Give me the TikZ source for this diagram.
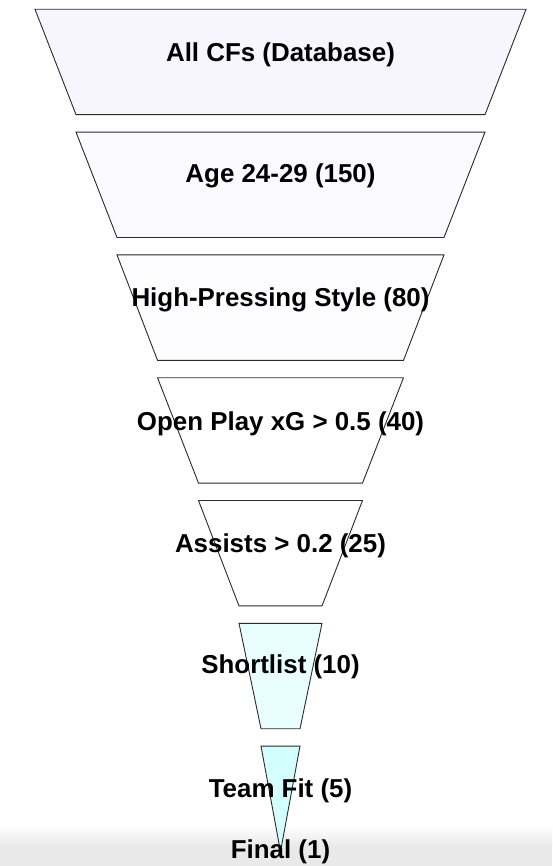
\documentclass[tikz,border=0pt]{standalone}
\usepackage{fontspec}
\setmainfont{Liberation Sans}
\definecolor{fA}{HTML}{F7F6FF}
\definecolor{fB}{HTML}{FAFAFF}
\definecolor{fC}{HTML}{FDFDFF}
\definecolor{fD}{HTML}{FFFFFF}
\definecolor{fE}{HTML}{FFFFFF}
\definecolor{fF}{HTML}{E9FFFF}
\definecolor{fG}{HTML}{D4FFFF}
\definecolor{edge}{HTML}{2A2A2A}
\definecolor{band}{HTML}{E9E9E9}
\tikzset{
  stagebox/.style={draw=edge, line width=0.9pt, line join=miter},
  stagelabel/.style={anchor=base, inner sep=0pt, text=black,
    font=\fontsize{25.9}{30}\selectfont\bfseries}
}
\begin{document}
\begin{tikzpicture}[x=1pt,y=-1pt]
\useasboundingbox (0,0) rectangle (552,866);
\fill[white] (0,0) rectangle (552,866);
% bottom grey band of the screenshot
\shade[top color=white, bottom color=band] (0,826) rectangle (552,846);
\fill[band] (0,846) rectangle (552,866);
% funnel stages
\filldraw[stagebox, fill=fA] (35,9.3) -- (526,9.3) -- (485,114.7) -- (76,114.7) -- cycle;
\filldraw[stagebox, fill=fB] (76,132.1) -- (485,132.1) -- (444,237.5) -- (117,237.5) -- cycle;
\filldraw[stagebox, fill=fC] (117,254.9) -- (444,254.9) -- (403.5,360.3) -- (157.5,360.3) -- cycle;
\filldraw[stagebox, fill=fD] (157.5,377.7) -- (403.5,377.7) -- (362.5,483.1) -- (198.5,483.1) -- cycle;
\filldraw[stagebox, fill=fE] (198.5,500.5) -- (362.5,500.5) -- (322,605.9) -- (239,605.9) -- cycle;
\filldraw[stagebox, fill=fF] (239,623.3) -- (322,623.3) -- (300,728.7) -- (261,728.7) -- cycle;
\filldraw[stagebox, fill=fG] (261,746.1) -- (300,746.1) -- (280.5,851.5) -- cycle;
% labels
\node[stagelabel] (s1) at (280.5,62) {All CFs (Database)};
\node[stagelabel] (s2) at (280.5,182.5) {Age 24-29 (150)};
\node[stagelabel] (s3) at (280.5,306) {High-Pressing Style (80)};
\node[stagelabel] (s4) at (280.5,430) {Open Play xG > 0.5 (40)};
\node[stagelabel] (s5) at (280.5,552) {Assists > 0.2 (25)};
\node[stagelabel] (s6) at (280.5,673) {Shortlist (10)};
\node[stagelabel] (s7) at (280.5,797) {Team Fit (5)};
\node[stagelabel] (s8) at (280.5,858) {Final (1)};
\end{tikzpicture}
\end{document}
